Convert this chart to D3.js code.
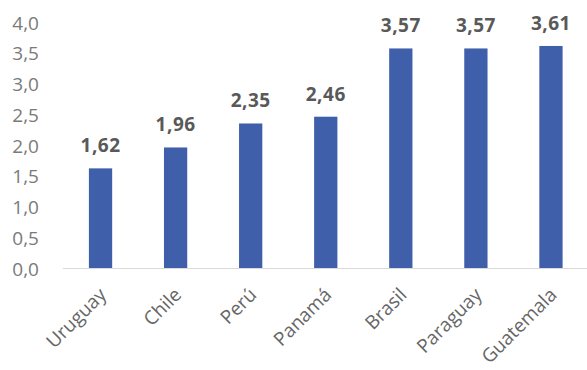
<!DOCTYPE html>
<html>
<head>
<meta charset="utf-8">
<script src="https://cdn.jsdelivr.net/npm/d3@7"></script>
<style>
  body { margin: 0; background: #fff; }
  svg text { font-family: "Open Sans", "Noto Sans", sans-serif; }
</style>
</head>
<body>
<svg id="chart" width="587" height="370"></svg>
<script>
const countries = ["Uruguay", "Chile", "Perú", "Panamá", "Brasil", "Paraguay", "Guatemala"];
const values = [1.62, 1.96, 2.35, 2.46, 3.57, 3.57, 3.61];
const yTicks = [0, 0.5, 1, 1.5, 2, 2.5, 3, 3.5, 4];

const width = 587
const height = 370
const fmt = d => d3.format(".1f")(d).replace(".", ",")
const fmt2 = d => d3.format(".2f")(d).replace(".", ",")

const svg = d3.select("#chart")

const x = d3.scaleBand()
    .domain(countries)
    .range([63, 588.5])
    .paddingInner(0.69)
    .paddingOuter(0.345)

const y = d3.scaleLinear()
    .domain([0, 4])
    .range([268, 22])

// y axis labels
svg.append("g")
    .selectAll("text")
    .data(yTicks)
    .enter()
    .append("text")
    .attr("x", 39)
    .attr("y", d => y(d) + 1)
    .attr("dy", "0.35em")
    .attr("text-anchor", "end")
    .attr("fill", "#7a7a7a")
    .style("font-size", "19px")
    .text(fmt)

// baseline
svg.append("line")
    .attr("x1", 63).attr("x2", 588)
    .attr("y1", y(0) + 0.5).attr("y2", y(0) + 0.5)
    .attr("stroke", "#d9d9d9")
    .attr("stroke-width", 1)

// bars
svg.append("g")
    .selectAll("rect")
    .data(values)
    .enter()
    .append("rect")
    .attr("x", (d, i) => x(countries[i]))
    .attr("width", x.bandwidth())
    .attr("y", d => y(d))
    .attr("height", d => y(0) - y(d))
    .attr("fill", "#3f5faa")

// value labels
svg.append("g")
    .selectAll("text")
    .data(values)
    .enter()
    .append("text")
    .attr("x", (d, i) => x(countries[i]) + x.bandwidth() / 2)
    .attr("y", d => y(d) - 16)
    .attr("text-anchor", "middle")
    .attr("fill", "#595959")
    .style("font-size", "19px")
    .style("font-weight", "bold")
    .style("letter-spacing", "0.5px")
    .text(fmt2)

// category labels
svg.append("g")
    .selectAll("text")
    .data(countries)
    .enter()
    .append("text")
    .attr("transform", d => "translate(" + (x(d) + x.bandwidth() / 2 + 7) + "," + 296 + ") rotate(-45)")
    .attr("text-anchor", "end")
    .attr("fill", "#666666")
    .style("font-size", "19px")
    .text(d => d)
</script>
</body>
</html>
